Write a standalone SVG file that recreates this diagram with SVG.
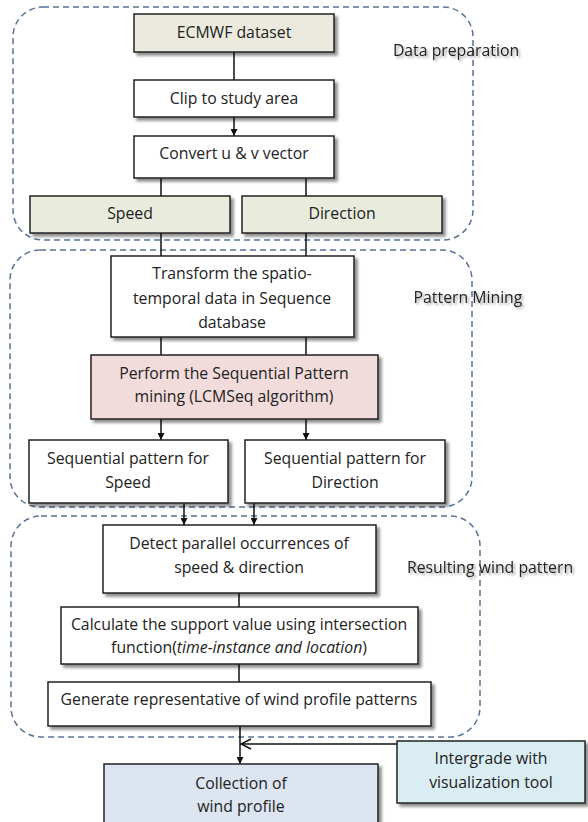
<svg xmlns="http://www.w3.org/2000/svg" width="588" height="822" viewBox="0 0 588 822">
<defs>
<filter id="sh" x="-10%" y="-10%" width="130%" height="140%">
<feGaussianBlur in="SourceAlpha" stdDeviation="1.5"/>
<feOffset dx="3" dy="3" result="b"/>
<feComponentTransfer><feFuncA type="linear" slope="0.45"/></feComponentTransfer>
<feMerge><feMergeNode/><feMergeNode in="SourceGraphic"/></feMerge>
</filter>
<filter id="tsh" x="-10%" y="-30%" width="130%" height="180%">
<feGaussianBlur in="SourceAlpha" stdDeviation="1.2"/>
<feOffset dx="2" dy="2"/>
<feComponentTransfer><feFuncA type="linear" slope="0.35"/></feComponentTransfer>
<feMerge><feMergeNode/><feMergeNode in="SourceGraphic"/></feMerge>
</filter>
<marker id="ar" viewBox="0 0 10 10" refX="10" refY="5" markerWidth="7" markerHeight="7" orient="auto" markerUnits="userSpaceOnUse">
<path d="M0,0 L10,5 L0,10 z" fill="#111"/>
</marker>
<marker id="open" viewBox="0 0 12 12" refX="11" refY="6" markerWidth="12" markerHeight="12" orient="auto" markerUnits="userSpaceOnUse">
<path d="M1,1 L11,6 L1,11" fill="none" stroke="#111" stroke-width="1.5"/>
</marker>
</defs>
<style>
.grp{fill:none;stroke:#5a7396;stroke-width:1.5;stroke-dasharray:6,4}
.box{stroke:#222;stroke-width:1.5;filter:url(#sh)}
.t{font-family:"Open Sans","Noto Sans","Liberation Sans",sans-serif;font-size:15.8px;fill:#222;text-anchor:middle}
.lbl{font-family:"Open Sans","Noto Sans","Liberation Sans",sans-serif;font-size:15.8px;fill:#222;text-anchor:middle;filter:url(#tsh)}
.c{stroke:#111;stroke-width:1.5;fill:none}
</style>

<g id="group-data-preparation">
<rect class="grp" x="13" y="7" width="460" height="233" rx="30"/>
<text class="lbl" x="456" y="56">Data preparation</text>
</g>
<g id="group-pattern-mining">
<rect class="grp" x="10" y="250" width="462" height="257" rx="30"/>
<text class="lbl" x="468" y="303">Pattern Mining</text>
</g>
<g id="group-resulting">
<rect class="grp" x="11" y="516" width="469" height="221" rx="30"/>
<text class="lbl" x="490" y="573">Resulting wind pattern</text>
</g>

<g id="connectors">
<line class="c" x1="234" y1="52" x2="234" y2="80"/>
<line class="c" x1="234" y1="117" x2="234" y2="136" marker-end="url(#ar)"/>
<line class="c" x1="161" y1="178" x2="161" y2="196"/>
<line class="c" x1="306" y1="178" x2="306" y2="196"/>
<line class="c" x1="161" y1="233" x2="161" y2="256"/>
<line class="c" x1="306" y1="233" x2="306" y2="256"/>
<line class="c" x1="161" y1="337" x2="161" y2="355"/>
<line class="c" x1="306" y1="337" x2="306" y2="355"/>
<line class="c" x1="161" y1="419" x2="161" y2="440" marker-end="url(#ar)"/>
<line class="c" x1="306" y1="419" x2="306" y2="440" marker-end="url(#ar)"/>
<line class="c" x1="184" y1="503" x2="184" y2="525" marker-end="url(#ar)"/>
<line class="c" x1="254" y1="503" x2="254" y2="525" marker-end="url(#ar)"/>
<line class="c" x1="239" y1="593" x2="239" y2="607"/>
<line class="c" x1="239" y1="664" x2="239" y2="682"/>
<line class="c" x1="240" y1="726" x2="240" y2="764" marker-end="url(#ar)"/>
<line class="c" x1="397" y1="744" x2="241" y2="744" marker-end="url(#open)"/>
</g>

<g id="ecmwf">
<rect class="box" x="134" y="14" width="200" height="38" fill="#eceadf"/>
<text class="t" x="234" y="38">ECMWF dataset</text>
</g>
<g id="clip">
<rect class="box" x="134" y="80" width="200" height="37" fill="#ffffff"/>
<text class="t" x="234" y="104">Clip to study area</text>
</g>
<g id="convert">
<rect class="box" x="134" y="136" width="200" height="42" fill="#ffffff"/>
<text class="t" x="234" y="159">Convert  u &amp; v vector</text>
</g>
<g id="speed">
<rect class="box" x="30" y="196" width="200" height="37" fill="#e9ecdd"/>
<text class="t" x="130" y="219">Speed</text>
</g>
<g id="direction">
<rect class="box" x="242" y="196" width="200" height="37" fill="#e9ecdd"/>
<text class="t" x="342" y="219">Direction</text>
</g>
<g id="transform">
<rect class="box" x="111" y="256" width="243" height="81" fill="#ffffff"/>
<text class="t" x="232" y="279">Transform the spatio-</text>
<text class="t" x="232" y="304">temporal data in Sequence</text>
<text class="t" x="232" y="328">database</text>
</g>
<g id="perform">
<rect class="box" x="91" y="355" width="287" height="64" fill="#f2dcdb"/>
<text class="t" x="234" y="379">Perform the Sequential Pattern</text>
<text class="t" x="234" y="402">mining (LCMSeq algorithm)</text>
</g>
<g id="seq-speed">
<rect class="box" x="29" y="440" width="199" height="63" fill="#ffffff"/>
<text class="t" x="128" y="464">Sequential pattern for</text>
<text class="t" x="128" y="488">Speed</text>
</g>
<g id="seq-direction">
<rect class="box" x="245" y="440" width="200" height="63" fill="#ffffff"/>
<text class="t" x="345" y="464">Sequential pattern for</text>
<text class="t" x="345" y="488">Direction</text>
</g>
<g id="detect">
<rect class="box" x="103" y="525" width="273" height="68" fill="#ffffff"/>
<text class="t" x="239" y="549">Detect parallel occurrences of</text>
<text class="t" x="239" y="573">speed &amp; direction</text>
</g>
<g id="calculate">
<rect class="box" x="61" y="607" width="357" height="57" fill="#ffffff"/>
<text class="t" x="239" y="630">Calculate the support value using  intersection</text>
<text class="t" x="239" y="653">function(<tspan font-style="italic">time-instance and location</tspan>)</text>
</g>
<g id="generate">
<rect class="box" x="48" y="682" width="383" height="44" fill="#ffffff"/>
<text class="t" x="239" y="705">Generate representative of wind profile patterns</text>
</g>
<g id="collection">
<rect class="box" x="104" y="764" width="274" height="70" fill="#dce5f0"/>
<text class="t" x="241" y="789">Collection of</text>
<text class="t" x="241" y="812">wind profile</text>
</g>
<g id="intergrade">
<rect class="box" x="397" y="741" width="188" height="62" fill="#daedf2"/>
<text class="t" x="491" y="764">Intergrade with</text>
<text class="t" x="491" y="788">visualization tool</text>
</g>
</svg>
